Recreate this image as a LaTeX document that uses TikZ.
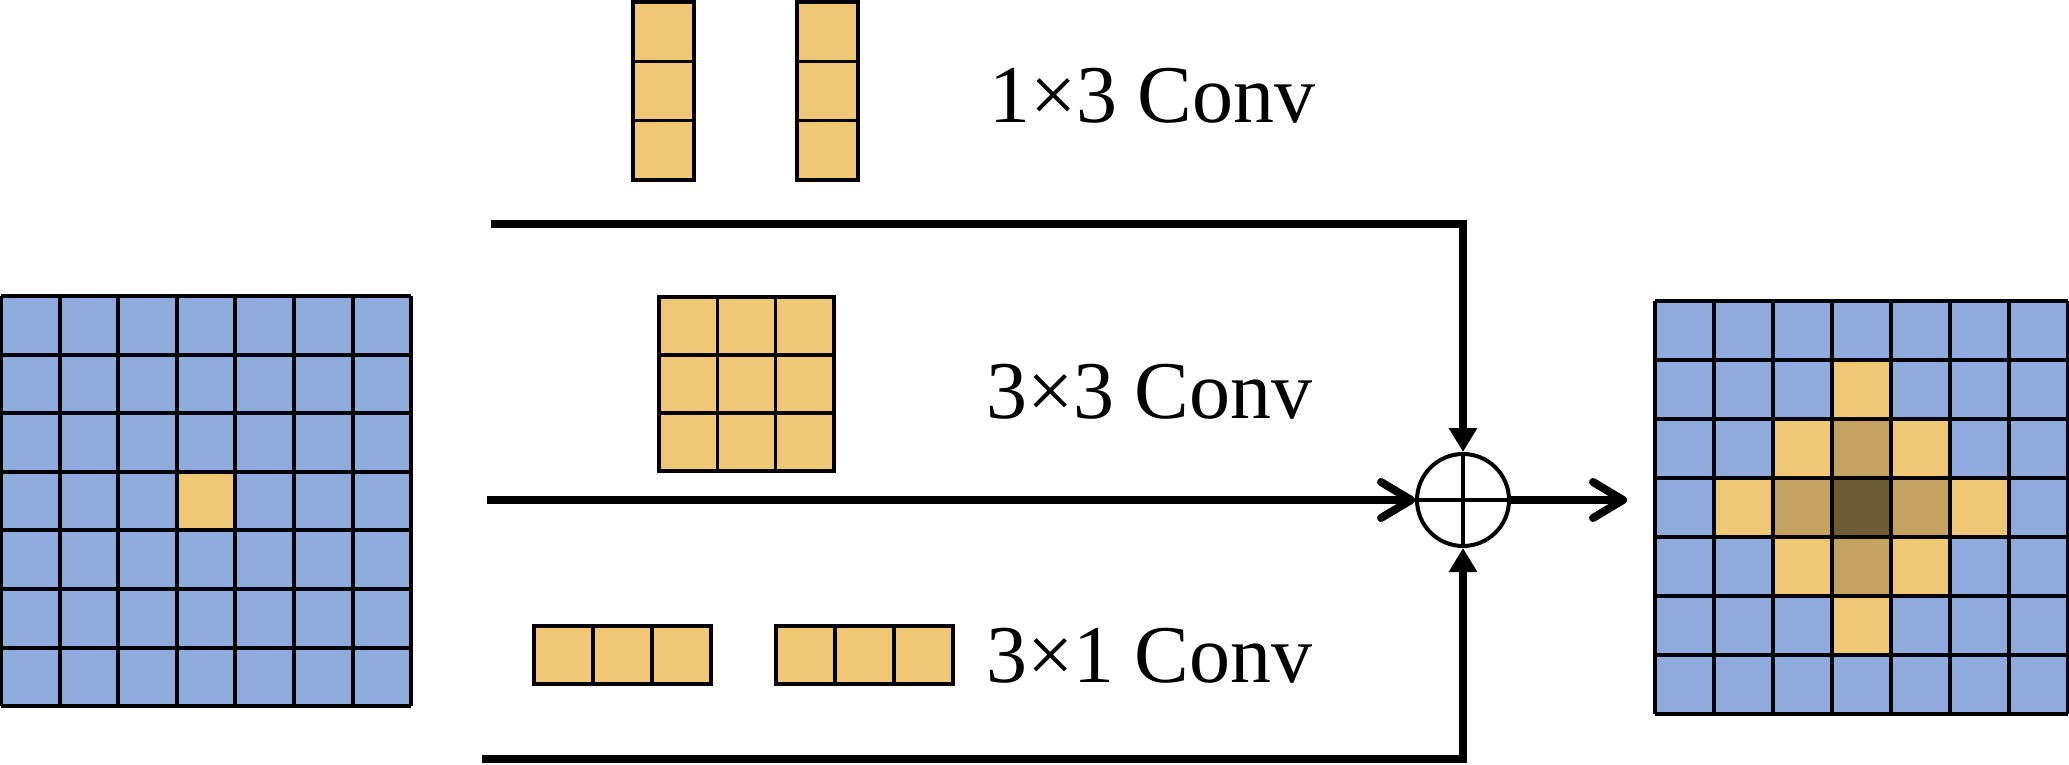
\documentclass[tikz,border=0pt]{standalone}
\usepackage{fontspec}
\setmainfont{Liberation Serif}
\usetikzlibrary{arrows.meta}
\definecolor{cblue}{RGB}{143,170,220}
\definecolor{cyel}{RGB}{240,200,117}
\definecolor{cmid}{RGB}{196,163,98}
\definecolor{cdark}{RGB}{111,91,54}
\tikzset{
  gridline/.style={line width=4pt, black},
  kcell/.style={fill=cyel, draw=black, line width=3.5pt},
  conn/.style={line width=8pt, black},
  lbl/.style={font=\fontsize{82}{90}\selectfont, inner sep=0pt, anchor=west},
  chev/.style={-{Straight Barb[length=30pt, width=36pt, round]}},
  tri/.style={-{Triangle[length=24pt, width=27pt]}},
}
\begin{document}
\begin{tikzpicture}[x=1pt,y=-1pt]
\useasboundingbox (0,0) rectangle (2069,765);
% ---------- left grid ----------
\def\cl{58.6}
\begin{scope}[shift={(1,296)}]
  \fill[cblue] (0,0) rectangle (7*\cl,7*\cl);
  \fill[cyel] (3*\cl,3*\cl) rectangle (4*\cl,4*\cl);
  \foreach \i in {0,...,7} {
    \draw[gridline] (\i*\cl,0) -- (\i*\cl,7*\cl);
    \draw[gridline] (0,\i*\cl) -- (7*\cl,\i*\cl);
  }
\end{scope}
% ---------- right grid ----------
\def\cr{59}
\begin{scope}[shift={(1655,301)}]
  \fill[cblue] (0,0) rectangle (7*\cr,7*\cr);
  \foreach \a/\b in {3/1,2/2,4/2,1/3,5/3,2/4,4/4,3/5}
    \fill[cyel] (\a*\cr,\b*\cr) rectangle ++(\cr,\cr);
  \foreach \a/\b in {3/2,2/3,4/3,3/4}
    \fill[cmid] (\a*\cr,\b*\cr) rectangle ++(\cr,\cr);
  \fill[cdark] (3*\cr,3*\cr) rectangle ++(\cr,\cr);
  \foreach \i in {0,...,7} {
    \draw[gridline] (\i*\cr,0) -- (\i*\cr,7*\cr);
    \draw[gridline] (0,\i*\cr) -- (7*\cr,\i*\cr);
  }
\end{scope}
% ---------- 1x3 kernels (vertical) ----------
\foreach \x in {633,797} {
  \foreach \j in {0,1,2}
    \draw[kcell] (\x,2+\j*59.3) rectangle ++(61,59.3);
}
% ---------- 3x3 kernel ----------
\foreach \a in {0,1,2}
  \foreach \b in {0,1,2}
    \draw[kcell] (659+\a*58.3,297+\b*58) rectangle ++(58.3,58);
% ---------- 3x1 kernels (horizontal) ----------
\foreach \x in {534,776} {
  \foreach \j in {0,1,2}
    \draw[kcell] (\x+\j*59,626) rectangle ++(59,58);
}
% ---------- labels ----------
\node[lbl] (l1) at (989,96) {1×3 Conv};
\node[lbl] (l2) at (986,392) {3×3 Conv};
\node[lbl] (l3) at (986,656) {3×1 Conv};
% ---------- sum node ----------
\node[circle, draw, line width=4pt, minimum size=92pt, inner sep=0pt] (sum) at (1463,500) {};
\draw[line width=3.5pt] (sum.north) -- (sum.south) (sum.west) -- (sum.east);
% ---------- connectors ----------
\coordinate (tstart) at (491,224);
\coordinate (mstart) at (487,500);
\coordinate (bstart) at (482,759);
\coordinate (outend) at (1627,500);
\draw[conn, chev] (mstart) -- (sum.west);
\draw[conn, tri] (tstart) -| (sum.north);
\draw[conn, tri] (bstart) -| (sum.south);
\draw[conn, chev] (sum.east) -- (outend);
\end{tikzpicture}
\end{document}
